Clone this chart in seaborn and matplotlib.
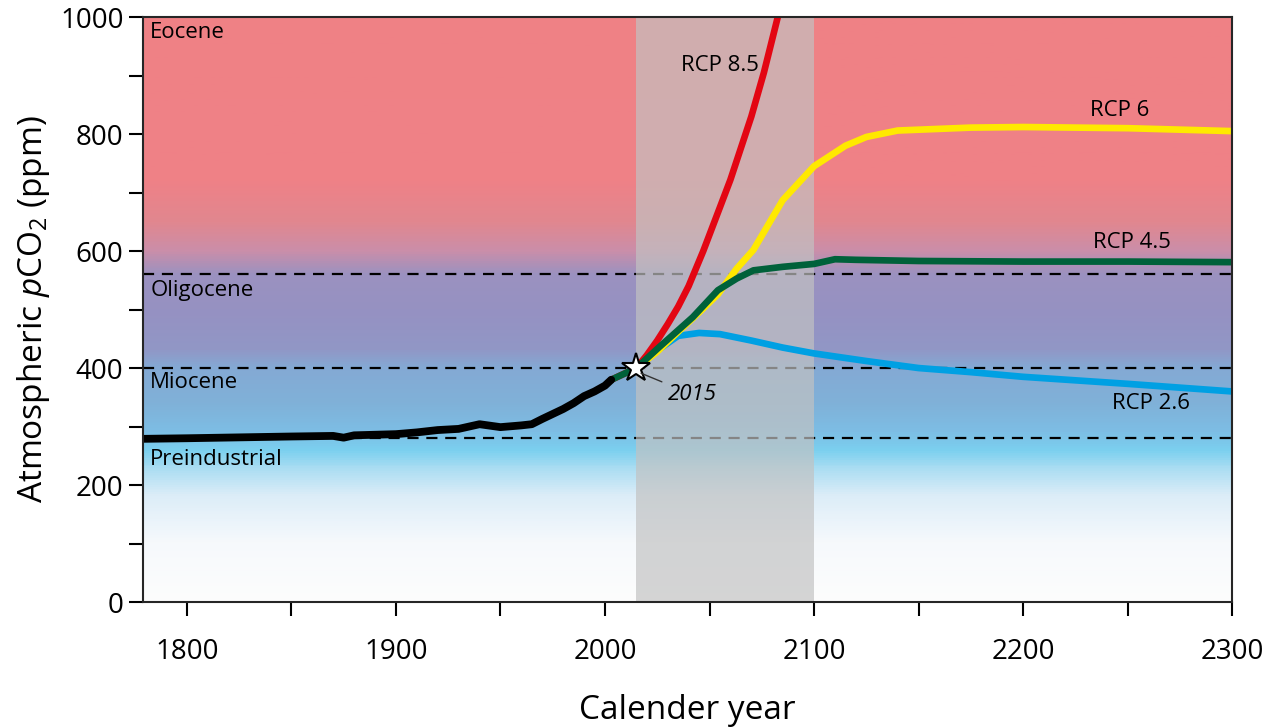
import matplotlib
matplotlib.use("Agg")
import matplotlib.pyplot as plt
from matplotlib.colors import LinearSegmentedColormap
from matplotlib.ticker import MultipleLocator
import seaborn as sns
import numpy as np
import pandas as pd

# observed record (black)
hist_years = [1779, 1800, 1850, 1870, 1875, 1880, 1900, 1910, 1920, 1930, 1940,
              1950, 1960, 1965, 1970, 1980, 1985, 1990, 1995, 2000, 2003]
hist_ppm = [279, 280, 283, 284, 281, 285, 287, 290, 294, 296, 304,
            299, 302, 304, 313, 330, 340, 352, 360, 370, 380]

# RCP scenarios
rcp85_years = [2003, 2015, 2020, 2025, 2030, 2035, 2040, 2047, 2055, 2060, 2070,
               2076, 2083, 2090]
rcp85_ppm = [380, 400, 422, 447, 475, 505, 540, 600, 675, 722, 830,
             905, 1005, 1090]

rcp6_years = [2015, 2025, 2035, 2045, 2054, 2063, 2071, 2085, 2100, 2115, 2125,
              2140, 2175, 2200, 2250, 2300]
rcp6_ppm = [400, 428, 462, 495, 526, 570, 602, 687, 745, 780, 795,
            806, 811, 812, 810, 805]

rcp45_years = [2003, 2015, 2026, 2042, 2054, 2063, 2071, 2085, 2100, 2110, 2120,
               2150, 2200, 2250, 2300]
rcp45_ppm = [380, 400, 436, 487, 533, 553, 567, 573, 578, 586, 585,
             583, 582, 582, 581]

rcp26_years = [2015, 2025, 2035, 2045, 2055, 2070, 2085, 2100, 2125, 2150,
               2175, 2200, 2250, 2300]
rcp26_ppm = [400, 430, 455, 460, 458, 447, 435, 425, 412, 400,
             393, 385, 373, 360]

# reference levels and epochs
levels = [280, 400, 560]
epoch_names = ["Eocene", "Oligocene", "Miocene", "Preindustrial"]
epoch_ppm = [973, 533, 376, 244]

rcp_labels = ["RCP 8.5", "RCP 6", "RCP 4.5", "RCP 2.6"]
rcp_label_x = [2055, 2246, 2252, 2261]
rcp_label_y = [918, 841, 615, 340]

sns.set_style("ticks")
plt.rcParams["font.family"] = ["Open Sans", "DejaVu Sans"]
plt.rcParams["mathtext.fontset"] = "custom"
plt.rcParams["mathtext.rm"] = "Open Sans"
plt.rcParams["mathtext.it"] = "Open Sans:italic"
plt.rcParams["text.color"] = "black"
plt.rcParams["axes.labelcolor"] = "black"
plt.rcParams["xtick.color"] = "black"
plt.rcParams["ytick.color"] = "black"

fig = plt.figure(figsize=(12.74, 7.28), dpi=100)
ax = fig.add_axes([0.1122, 0.173, 0.855, 0.8036])

xmin, xmax = 1779, 2300
# background gradient by ppm
stops = [(0, "#fdfdfd"), (100, "#f6f9fc"), (180, "#dcedf8"), (230, "#a6dcf2"),
         (258, "#7bd0ef"), (290, "#7dbde4"), (340, "#80b1d8"), (400, "#84a9d4"),
         (430, "#9197c6"), (500, "#9691c2"), (560, "#9b92c0"), (600, "#cb8ea9"),
         (650, "#e1878f"), (720, "#ef8187"), (1000, "#f08185")]
cmap = LinearSegmentedColormap.from_list(
    "bg", [(v / 1000, c) for v, c in stops])
grad = np.linspace(0, 1, 500).reshape(-1, 1)
ax.imshow(grad, cmap=cmap, aspect="auto", origin="lower",
          extent=[xmin, xmax, 0, 1000], zorder=0)

for lv in levels:
    ax.axhline(lv, color="black", linestyle=(0, (5, 3.5)), linewidth=1.6, zorder=1)

ax.axvspan(2015, 2100, color="#c2c2c2", alpha=0.69, linewidth=0, zorder=2)

lw = 4.8
df = lambda x, y: pd.DataFrame({"year": x, "ppm": y})
sns.lineplot(data=df(rcp26_years, rcp26_ppm), x="year", y="ppm", color="#00a0e3",
             linewidth=lw, ax=ax, zorder=3, sort=False)
sns.lineplot(data=df(rcp6_years, rcp6_ppm), x="year", y="ppm", color="#ffe900",
             linewidth=lw, ax=ax, zorder=4, sort=False)
sns.lineplot(data=df(rcp85_years, rcp85_ppm), x="year", y="ppm", color="#e30613",
             linewidth=lw, ax=ax, zorder=5, sort=False)
sns.lineplot(data=df(rcp45_years, rcp45_ppm), x="year", y="ppm", color="#00613a",
             linewidth=lw, ax=ax, zorder=6, sort=False)
sns.lineplot(data=df(hist_years, hist_ppm), x="year", y="ppm", color="black",
             linewidth=lw + 0.8, ax=ax, zorder=7, sort=False)

ax.plot([2015], [400], marker="*", markersize=21, markerfacecolor="white",
        markeredgecolor="black", markeredgewidth=1.5, zorder=9)
ax.annotate("2015", xy=(2016, 393), xytext=(2030, 355), fontsize=16,
            style="italic", ha="left", va="center",
            arrowprops=dict(arrowstyle="-", color="#333333", lw=1), zorder=9)

for name, y in zip(epoch_names, epoch_ppm):
    ax.text(1782.5, y, name, fontsize=16, ha="left", va="center", zorder=8)
for name, x, y in zip(rcp_labels, rcp_label_x, rcp_label_y):
    ax.text(x, y, name, fontsize=16, ha="center", va="center", zorder=8)

ax.set_xlim(xmin, xmax)
ax.set_ylim(0, 1000)
ax.set_xticks([1800, 1900, 2000, 2100, 2200, 2300])
ax.set_yticks([0, 200, 400, 600, 800, 1000])
ax.xaxis.set_minor_locator(MultipleLocator(50))
ax.yaxis.set_minor_locator(MultipleLocator(100))
ax.tick_params(which="both", direction="out", width=1.5, length=10, labelsize=20)
ax.tick_params(axis="x", pad=16)
ax.tick_params(axis="y", pad=4)
for s in ax.spines.values():
    s.set_linewidth(1.5)
    s.set_zorder(10)

ax.set_xlabel("Calender year", fontsize=24, labelpad=20)
ax.set_ylabel("Atmospheric $\\it{p}$CO$_2$ (ppm)", fontsize=24, labelpad=6)

fig.savefig("out.png", dpi=100)
